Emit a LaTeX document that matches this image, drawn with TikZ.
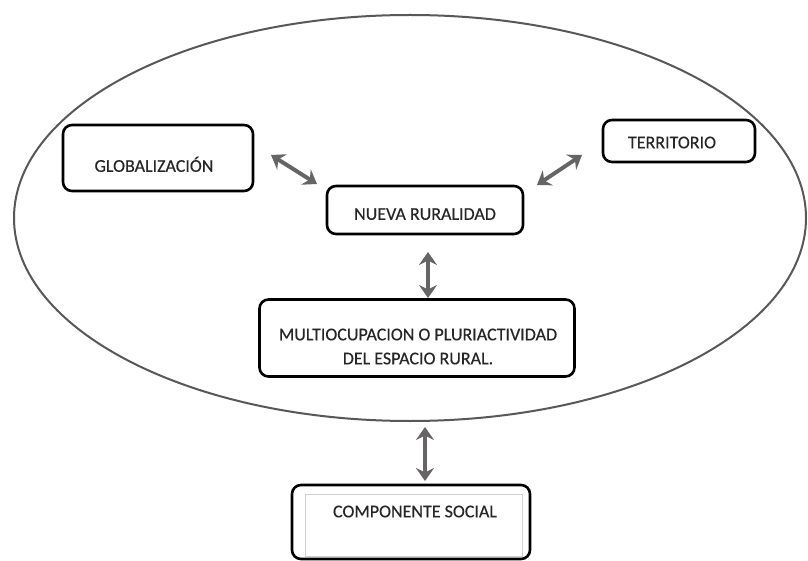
\documentclass[tikz,border=0pt]{standalone}
\usepackage{fontspec}
\setmainfont{Carlito}
\usetikzlibrary{arrows.meta}
\definecolor{ellgray}{HTML}{5A5757}
\definecolor{arrgray}{HTML}{666464}
\definecolor{innergray}{HTML}{D0D0D0}
% #1 = horizontal shift, #2 = baseline of last line below node centre, #3 = text
\newcommand\boxtext[3]{\raisebox{-#2}[0pt][0pt]{\makebox[0pt]{\hspace*{#1}\hspace*{#1}\begin{tabular}[b]{@{}c@{}}#3\end{tabular}}}}
\begin{document}
\begin{tikzpicture}[x=1pt,y=-1pt,
  box/.style={draw=black,line width=2.6pt,rounded corners=9pt,inner sep=0pt,
    font=\fontsize{18}{24}\selectfont\addfontfeature{FakeBold=0.35},text=black!85},
  dbl/.style={draw=arrgray,line width=4pt,{Stealth[length=13pt,width=18pt,inset=4.5pt]}-{Stealth[length=13pt,width=18pt,inset=4.5pt]}}]
\useasboundingbox (0,0) rectangle (808,561);
\fill[white] (0,0) rectangle (808,561);
\draw[ellgray,line width=2pt] (410,218) ellipse [x radius=396pt, y radius=203pt];
\node[box,minimum width=190pt,minimum height=66pt] (glob) at (158,158) {\boxtext{-4pt}{13.8pt}{GLOBALIZACIÓN}};
\node[box,minimum width=152pt,minimum height=42pt] (terr) at (679,141) {\boxtext{-7pt}{7.3pt}{TERRITORIO}};
\node[box,minimum width=196pt,minimum height=48pt] (nr) at (425,210) {\boxtext{0pt}{9.8pt}{NUEVA RURALIDAD}};
\node[box,minimum width=315pt,minimum height=77pt] (multi) at (417,338) {\boxtext{1pt}{26.3pt}{MULTIOCUPACION O PLURIACTIVIDAD\\ DEL ESPACIO RURAL.}};
\node[box,minimum width=238pt,minimum height=74pt] (comp) at (411,522) {\boxtext{4pt}{-4.7pt}{COMPONENTE SOCIAL}};
\draw[innergray,line width=0.8pt] (305,494) rectangle (522,556);
\coordinate (g1) at (271,155);
\coordinate (g2) at (317,184);
\coordinate (t1) at (582,155);
\coordinate (t2) at (537,185);
\coordinate (m1) at (428,252);
\coordinate (m2) at (428,298);
\coordinate (b1) at (425,427);
\coordinate (b2) at (425,481);
\draw[dbl] (g1) -- (g2);
\draw[dbl] (t1) -- (t2);
\draw[dbl] (m1) -- (m2);
\draw[dbl] (b1) -- (b2);
\end{tikzpicture}
\end{document}
